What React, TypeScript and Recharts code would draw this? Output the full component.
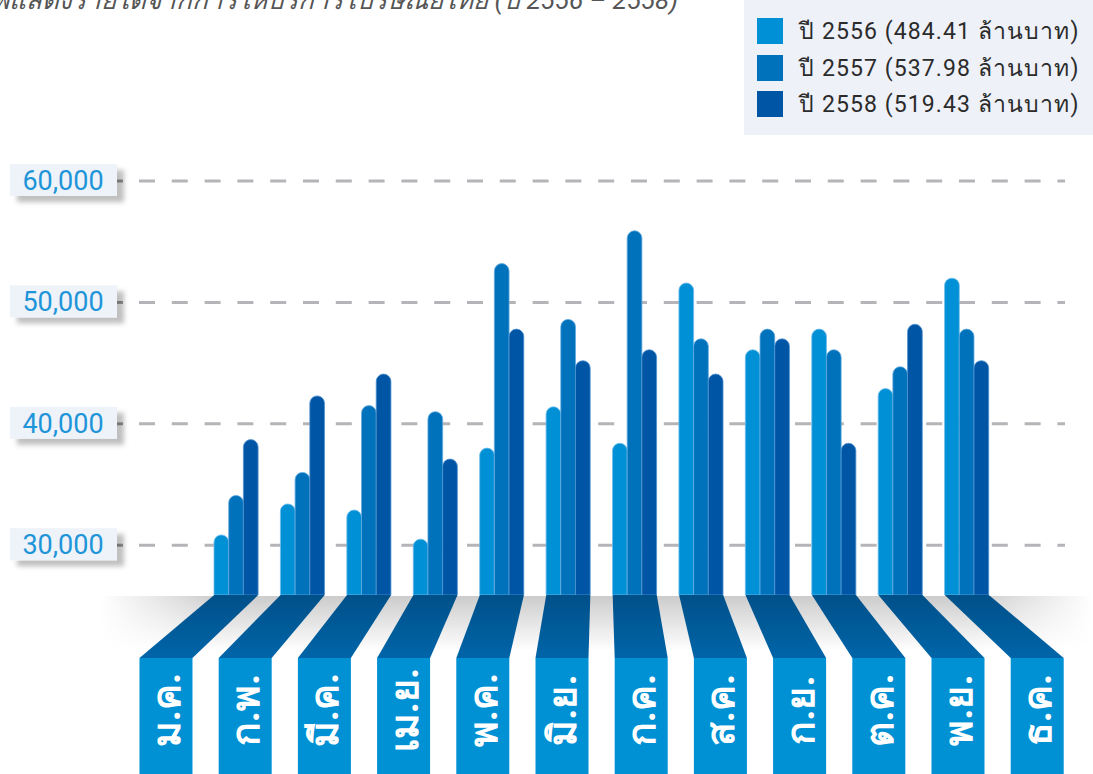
import React from 'react';
import { BarChart, Bar, XAxis, YAxis, CartesianGrid, Legend } from 'recharts';

const months = ['ม.ค.', 'ก.พ.', 'มี.ค.', 'เม.ย.', 'พ.ค.', 'มิ.ย.', 'ก.ค.', 'ส.ค.', 'ก.ย.', 'ต.ค.', 'พ.ย.', 'ธ.ค.'];
const rev2556 = [30850, 33400, 32900, 30500, 38000, 41400, 38400, 51600, 46100, 47800, 42900, 52000];
const rev2557 = [34100, 36000, 41500, 41000, 53200, 48600, 55900, 47000, 47800, 46100, 44700, 47800];
const rev2558 = [38700, 42300, 44100, 37100, 47800, 45200, 46100, 44100, 47000, 38400, 48200, 45200];
const seriesNames = ['ปี 2556 (484.41 ล้านบาท)', 'ปี 2557 (537.98 ล้านบาท)', 'ปี 2558 (519.43 ล้านบาท)'];
const seriesColors = ['#0090D6', '#0071BB', '#0055A5'];
const yTicks = [30000, 40000, 50000, 60000];
const yDomain = [25900, 60000];
const title = 'กราฟแสดงรายได้จากการให้บริการไปรษณีย์ไทย (ปี 2556 – 2558)';

const data = months.map((m, i) => ({ month: m, y2556: rev2556[i], y2557: rev2557[i], y2558: rev2558[i] }));

const W = 1093;
const H = 774;
const BAR_W = 14.7;
// month boxes fan out from the bar groups
const FAN_CX = 601;
const FAN_K = 1.1925;
const BOX_W = 53;
const SLANT_H = 63;

function MonthTick(props: any) {
  const { x, y, payload, index } = props;
  const half = (BAR_W * 3) / 2;
  const bx = FAN_CX + (x - FAN_CX) * FAN_K;
  const boxTop = y + SLANT_H;
  const pts = `${x - half},${y} ${x + half},${y} ${bx + BOX_W / 2},${boxTop} ${bx - BOX_W / 2},${boxTop}`;
  const ty = boxTop + 52;
  return (
    <g>
      <defs>
        <linearGradient id={`slant${index}`} x1="0" y1="0" x2="0" y2="1">
          <stop offset="0" stopColor="#005089" />
          <stop offset="1" stopColor="#0065A8" />
        </linearGradient>
      </defs>
      <polygon points={pts} fill={`url(#slant${index})`} />
      <rect x={bx - BOX_W / 2} y={boxTop} width={BOX_W} height={200} fill="#0090D4" />
      <text
        x={bx + 1}
        y={ty}
        transform={`rotate(-90 ${bx + 1} ${ty})`}
        textAnchor="middle"
        dominantBaseline="central"
        fill="#fff"
        fontSize={39}
        fontWeight={700}
      >
        {payload.value}
      </text>
    </g>
  );
}

function ValueTick(props: any) {
  const { x, y, payload, index } = props;
  const left = x - 129;
  return (
    <g>
      <defs>
        <filter id={`ysh${index}`} x="-20%" y="-40%" width="150%" height="200%">
          <feDropShadow dx="7" dy="6" stdDeviation="2.5" floodColor="#000" floodOpacity="0.25" />
        </filter>
      </defs>
      <line x1={x - 22} x2={x - 16} y1={y} y2={y} stroke="#9C9CA0" strokeWidth={3} />
      <rect x={left} y={y - 17} width={107} height={32} fill="#EEF2F9" filter={`url(#ysh${index})`} />
      <text x={left + 53} y={y} textAnchor="middle" dominantBaseline="central" fill="#1E95D8" fontSize={27}>
        {payload.value.toLocaleString('en-US')}
      </text>
    </g>
  );
}

function LegendBox(props: any) {
  const { payload } = props;
  return (
    <div style={{ width: 349, height: 135, background: '#EEF1F8', boxSizing: 'border-box', padding: '13px 0 0 13px' }}>
      {(payload || []).map((p: any) => (
        <div key={p.value} style={{ display: 'flex', alignItems: 'center', height: 36.5 }}>
          <span style={{ display: 'inline-block', width: 26, height: 26, background: p.color, marginRight: 16 }} />
          <span style={{ fontSize: 23, color: '#2b2b2b', letterSpacing: 1.1, whiteSpace: 'nowrap' }}>{p.value}</span>
        </div>
      ))}
    </div>
  );
}

// grid only at the labelled ticks, not at the bottom of the domain
function gridRows({ offset }: any) {
  const [lo, hi] = yDomain;
  return yTicks.map((t) => offset.top + ((hi - t) / (hi - lo)) * offset.height);
}

export default function App() {
  return (
    <div
      style={{
        position: 'absolute',
        left: 0,
        top: 0,
        width: W,
        height: H,
        overflow: 'hidden',
        background: '#fff',
        fontFamily: "Roboto, 'Noto Sans', sans-serif",
      }}
    >
      <svg width={W} height={H} style={{ position: 'absolute', left: 0, top: 0 }}>
        <defs>
          <linearGradient id="shV" x1="0" y1="0" x2="0" y2="1">
            <stop offset="0" stopColor="#000" stopOpacity={0.2} />
            <stop offset="1" stopColor="#000" stopOpacity={0} />
          </linearGradient>
          <linearGradient id="shH" x1="0" y1="0" x2="1" y2="0">
            <stop offset="0" stopColor="#fff" stopOpacity={0} />
            <stop offset="0.12" stopColor="#fff" stopOpacity={1} />
            <stop offset="0.88" stopColor="#fff" stopOpacity={1} />
            <stop offset="1" stopColor="#fff" stopOpacity={0} />
          </linearGradient>
          <mask id="shM">
            <rect x={100} y={596} width={993} height={55} fill="url(#shH)" />
          </mask>
        </defs>
        <rect x={100} y={596} width={993} height={55} fill="url(#shV)" mask="url(#shM)" />
        <text x={678} y={9} textAnchor="end" fontStyle="italic" fontSize={26} fill="#555">
          {title}
        </text>
      </svg>
      <div style={{ position: 'absolute', left: 0, top: 0 }}>
        <BarChart
          width={W}
          height={H}
          data={data}
          margin={{ top: 181, right: 28, bottom: 0, left: 0 }}
          barSize={BAR_W}
          barGap={0}
        >
          <CartesianGrid
            vertical={false}
            stroke="#B5B5B9"
            strokeWidth={3}
            strokeDasharray="16 16.8"
            horizontalCoordinatesGenerator={gridRows}
          />
          <XAxis
            dataKey="month"
            height={179}
            axisLine={false}
            tickLine={false}
            tickSize={0}
            tickMargin={0}
            interval={0}
            padding={{ left: 64, right: 65 }}
            tick={<MonthTick />}
          />
          <YAxis
            type="number"
            domain={yDomain}
            ticks={yTicks}
            allowDataOverflow
            width={139}
            axisLine={false}
            tickLine={false}
            tickSize={0}
            tickMargin={0}
            tick={<ValueTick />}
          />
          <Legend
            layout="vertical"
            align="center"
            verticalAlign="middle"
            content={<LegendBox />}
            wrapperStyle={{ top: 0, left: 744, width: 349, height: 135 }}
          />
          <Bar dataKey="y2556" name={seriesNames[0]} fill={seriesColors[0]} stroke="#6FBDEB" strokeWidth={0.8} radius={[8, 8, 0, 0]} isAnimationActive={false} />
          <Bar dataKey="y2557" name={seriesNames[1]} fill={seriesColors[1]} stroke="#5FA9DE" strokeWidth={0.8} radius={[8, 8, 0, 0]} isAnimationActive={false} />
          <Bar dataKey="y2558" name={seriesNames[2]} fill={seriesColors[2]} stroke="#4F93D2" strokeWidth={0.8} radius={[8, 8, 0, 0]} isAnimationActive={false} />
        </BarChart>
      </div>
    </div>
  );
}
